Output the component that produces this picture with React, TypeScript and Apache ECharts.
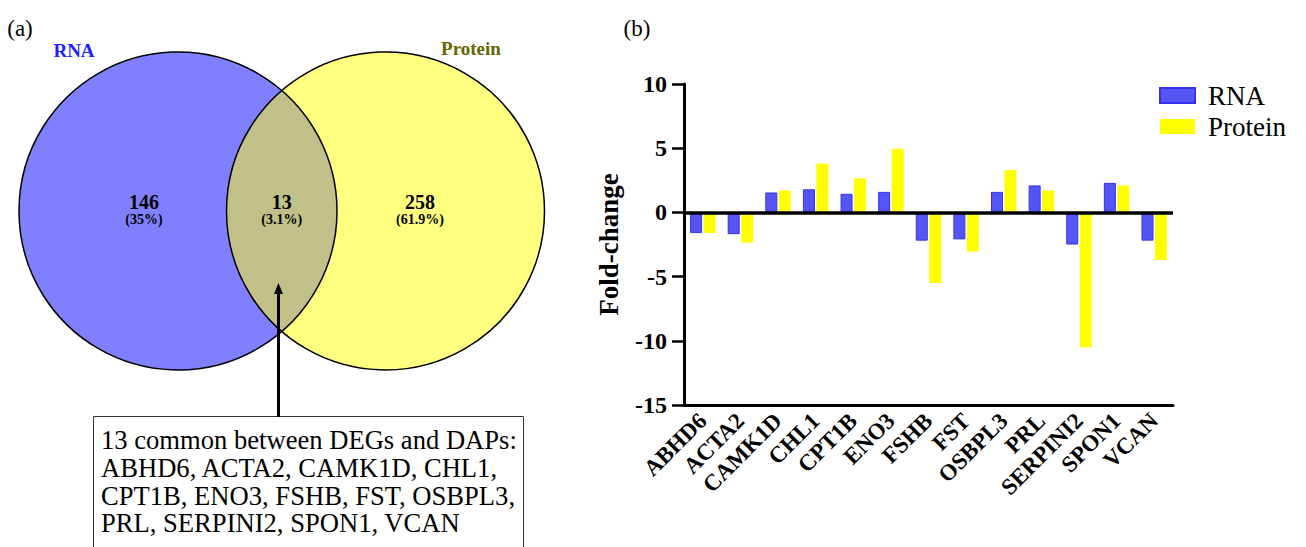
import React, { useEffect, useRef } from 'react';
import * as echarts from 'echarts';

// ---- data ----
const genes = ['ABHD6', 'ACTA2', 'CAMK1D', 'CHL1', 'CPT1B', 'ENO3', 'FSHB', 'FST', 'OSBPL3', 'PRL', 'SERPINI2', 'SPON1', 'VCAN'];
const rnaFC = [-1.6, -1.7, 1.55, 1.8, 1.45, 1.6, -2.2, -2.1, 1.6, 2.1, -2.5, 2.3, -2.2];
const proteinFC = [-1.6, -2.35, 1.7, 3.8, 2.65, 4.95, -5.5, -3.05, 3.3, 1.7, -10.5, 2.1, -3.7];
const yMin = -15;
const yMax = 10;
const yStep = 5;
const vennSets = ['RNA', 'Protein'];
const vennCounts = [146, 13, 258];
const vennPercents = ['35%', '3.1%', '61.9%'];

const SERIF = "'Liberation Serif', 'Times New Roman', serif";

// lens (intersection) shape of the two Venn circles
const R = 159;
const HALF = 120.5;
echarts.graphic.registerShape(
  'vennLens',
  echarts.graphic.extendPath(
    `M 0 ${-HALF} A ${R} ${R} 0 0 1 0 ${HALF} A ${R} ${R} 0 0 1 0 ${-HALF} Z`,
    {}
  )
);

function txt(x: number, y: number, text: string, size: number, opts: any = {}) {
  return {
    type: 'text',
    x,
    y,
    silent: true,
    z: opts.z ?? 10,
    style: {
      text,
      fontFamily: SERIF,
      fontSize: size,
      fontWeight: opts.weight ?? 'normal',
      fill: opts.color ?? '#000',
      textAlign: opts.align ?? 'center',
      textVerticalAlign: 'middle',
      align: opts.align ?? 'center',
      verticalAlign: 'middle',
    },
  };
}

export default function App() {
  const ref = useRef<HTMLDivElement>(null);
  useEffect(() => {
    document.body.style.margin = '0';
    const chart = echarts.init(ref.current!, null, { renderer: 'svg' });

    const cL = { cx: 178, cy: 211 };
    const cR = { cx: 385.5, cy: 211 };
    const lensX = (cL.cx + cR.cx) / 2;

    const boxLines = [
      `${vennCounts[1]} common between DEGs and DAPs:`,
      genes.slice(0, 4).join(', ') + ',',
      genes.slice(4, 9).join(', ') + ',',
      genes.slice(9).join(', '),
    ];

    const graphic: any[] = [
      txt(20, 28, '(a)', 23),
      txt(637, 28, '(b)', 23),
      { type: 'circle', shape: { cx: cL.cx, cy: cL.cy, r: R }, style: { fill: '#8080FF' }, z: 1, silent: true },
      { type: 'circle', shape: { cx: cR.cx, cy: cR.cy, r: R }, style: { fill: '#FFFF80' }, z: 2, silent: true },
      { type: 'vennLens', x: lensX, y: cL.cy, style: { fill: '#C0C088' }, z: 3, silent: true },
      { type: 'circle', shape: { cx: cL.cx, cy: cL.cy, r: R }, style: { fill: 'none', stroke: '#000', lineWidth: 1.5 }, z: 4, silent: true },
      { type: 'circle', shape: { cx: cR.cx, cy: cR.cy, r: R }, style: { fill: 'none', stroke: '#000', lineWidth: 1.5 }, z: 4, silent: true },
      txt(74, 50, vennSets[0], 19, { weight: 'bold', color: '#1F1FFF' }),
      txt(471, 48, vennSets[1], 19, { weight: 'bold', color: '#666600' }),
      txt(144, 202, String(vennCounts[0]), 20, { weight: 'bold' }),
      txt(144, 219, `(${vennPercents[0]})`, 14, { weight: 'bold' }),
      txt(lensX, 202, String(vennCounts[1]), 20, { weight: 'bold' }),
      txt(lensX, 219, `(${vennPercents[1]})`, 14, { weight: 'bold' }),
      txt(420, 202, String(vennCounts[2]), 20, { weight: 'bold' }),
      txt(420, 219, `(${vennPercents[2]})`, 14, { weight: 'bold' }),
      // arrow
      { type: 'line', shape: { x1: 278.5, y1: 417, x2: 278.5, y2: 292 }, style: { stroke: '#000', lineWidth: 3 }, z: 6, silent: true },
      { type: 'polygon', shape: { points: [[278.5, 283], [274, 294], [283, 294]] }, style: { fill: '#000' }, z: 6, silent: true },
      // text box
      { type: 'rect', shape: { x: 93.5, y: 416.5, width: 430, height: 150 }, style: { fill: '#fff', stroke: '#333', lineWidth: 1 }, z: 5, silent: true },
      ...boxLines.map((l, i) => txt(101, 440 + i * 27.8, l, 26.6, { align: 'left', z: 7 })),
    ];

    chart.setOption({
      animation: false,
      textStyle: { fontFamily: SERIF },
      graphic,
      legend: {
        orient: 'vertical',
        left: 1159,
        top: 82,
        padding: 0,
        itemWidth: 35,
        itemHeight: 15,
        itemGap: 4,
        icon: 'rect',
        textStyle: { fontFamily: SERIF, fontSize: 27, color: '#000', padding: [0, 0, 0, 8] },
        data: ['RNA', 'Protein'],
      },
      grid: { left: 684, right: 133, top: 84, bottom: 142, containLabel: false },
      xAxis: {
        type: 'category',
        data: genes,
        position: 'bottom',
        axisLine: { onZero: false, lineStyle: { color: '#000', width: 3 } },
        axisTick: { alignWithLabel: true, length: 10, lineStyle: { color: '#000', width: 2.5 } },
        axisLabel: {
          rotate: 45,
          interval: 0,
          margin: 12,
          fontFamily: SERIF,
          fontWeight: 'bold',
          fontSize: 23,
          color: '#000',
        },
      },
      yAxis: {
        type: 'value',
        min: yMin,
        max: yMax,
        interval: yStep,
        name: 'Fold-change',
        nameLocation: 'middle',
        nameGap: 62,
        nameTextStyle: { fontFamily: SERIF, fontWeight: 'bold', fontSize: 27, color: '#000' },
        axisLine: { show: true, lineStyle: { color: '#000', width: 3 } },
        axisTick: { show: true, length: 12, lineStyle: { color: '#000', width: 2.5 } },
        axisLabel: { margin: 17, fontFamily: SERIF, fontWeight: 'bold', fontSize: 24, color: '#000' },
        splitLine: { show: false },
      },
      series: [
        {
          name: 'RNA',
          type: 'bar',
          data: rnaFC,
          barWidth: 12,
          barGap: '12%',
          itemStyle: { color: '#5555F5', borderColor: '#3333EE', borderWidth: 1 },
          markLine: {
            silent: true,
            symbol: 'none',
            label: { show: false },
            lineStyle: { color: '#000', width: 3.5, type: 'solid' },
            data: [{ yAxis: 0 }],
          },
        },
        {
          name: 'Protein',
          type: 'bar',
          data: proteinFC,
          barWidth: 12,
          itemStyle: { color: '#FFFF00' },
        },
      ],
    });
    return () => chart.dispose();
  }, []);
  return <div ref={ref} style={{ position: 'absolute', left: 0, top: 0, width: 1306, height: 547 }} />;
}
